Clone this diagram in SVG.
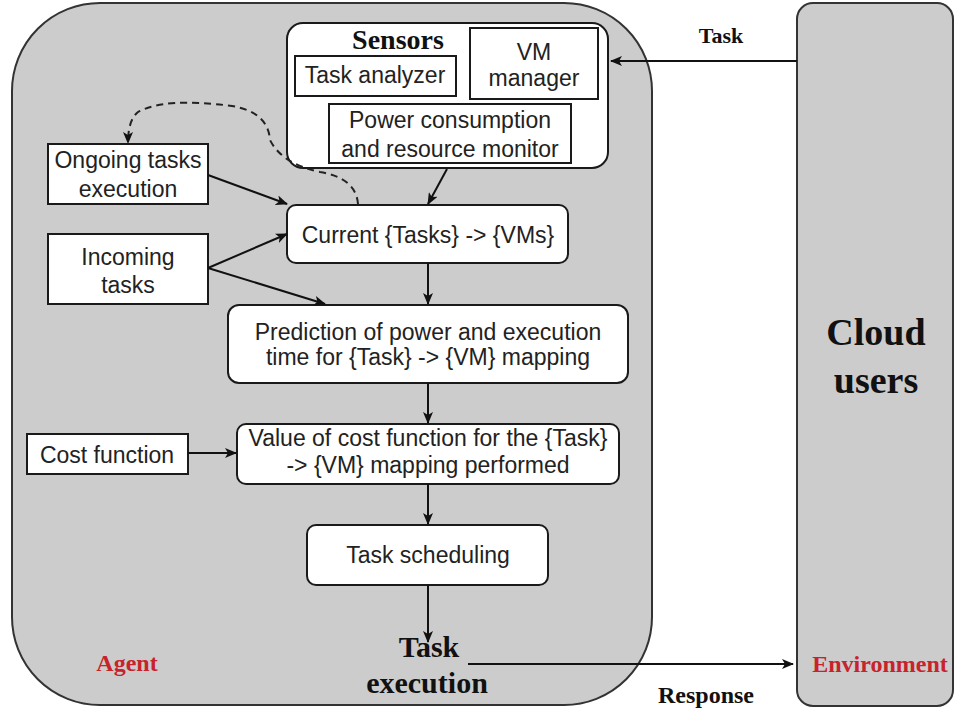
<svg xmlns="http://www.w3.org/2000/svg" width="954" height="713" viewBox="0 0 954 713">
<defs>
<marker id="ah" viewBox="0 0 12 10" refX="11" refY="5" markerWidth="12" markerHeight="10" markerUnits="userSpaceOnUse" orient="auto">
<path d="M0,0 L12,5 L0,10 L3,5 z" fill="#111"/>
</marker>
</defs>
<style>
.bg{fill:#cccccc;stroke:#333;stroke-width:2}
.box{fill:#fff;stroke:#1a1a1a;stroke-width:2}
.t{font-family:"Liberation Sans",Arial,sans-serif;font-size:23px;fill:#222;text-anchor:middle}
.s{font-family:"Liberation Serif","Times New Roman",serif;font-weight:bold;fill:#111;text-anchor:middle}
.red{fill:#c8232c}
.ln{stroke:#111;stroke-width:2;fill:none;marker-end:url(#ah)}
.dash{stroke:#222;stroke-width:2;fill:none;stroke-dasharray:7 5;marker-end:url(#ah)}
</style>
<rect width="954" height="713" fill="#fff"/>

<g id="agent">
<rect class="bg" x="12" y="3" width="640" height="702" rx="88" ry="88"/>
<text class="s red" x="127" y="671" font-size="24">Agent</text>
</g>

<g id="cloud-users">
<rect class="bg" x="797" y="3" width="156" height="703" rx="16" ry="16"/>
<text class="s" x="876" y="345" font-size="38">Cloud</text>
<text class="s" x="876" y="393" font-size="38">users</text>
<text class="s red" x="880" y="672" font-size="24">Environment</text>
</g>

<g id="sensors">
<rect class="box" x="287" y="23" width="321" height="145" rx="16" ry="16" stroke-width="1.5"/>
<text class="s" x="398" y="49" font-size="28">Sensors</text>
</g>

<g id="task-analyzer">
<rect class="box" x="295" y="56" width="161" height="40"/>
<text class="t" x="375" y="83">Task analyzer</text>
</g>

<g id="vm-manager">
<rect class="box" x="470" y="28" width="128" height="71"/>
<text class="t" x="534" y="60">VM</text>
<text class="t" x="534" y="86">manager</text>
</g>

<g id="power-monitor">
<rect class="box" x="329" y="104" width="242" height="59"/>
<text class="t" x="450" y="128">Power consumption</text>
<text class="t" x="450" y="157">and resource monitor</text>
</g>

<g id="ongoing">
<rect class="box" x="48" y="144" width="160" height="60"/>
<text class="t" x="128" y="168">Ongoing tasks</text>
<text class="t" x="128" y="197">execution</text>
</g>

<g id="incoming">
<rect class="box" x="48" y="234" width="160" height="70"/>
<text class="t" x="128" y="265">Incoming</text>
<text class="t" x="128" y="293">tasks</text>
</g>

<g id="current">
<rect class="box" x="287" y="205" width="281" height="58" rx="9" ry="9"/>
<text class="t" x="428" y="243">Current {Tasks} -&gt; {VMs}</text>
</g>

<g id="prediction">
<rect class="box" x="228" y="305" width="400" height="78" rx="11" ry="11"/>
<text class="t" x="428" y="340">Prediction of power and execution</text>
<text class="t" x="428" y="365">time for {Task} -&gt; {VM} mapping</text>
</g>

<g id="cost-function">
<rect class="box" x="27" y="434" width="161" height="40"/>
<text class="t" x="107" y="463">Cost function</text>
</g>

<g id="value">
<rect class="box" x="237" y="424" width="382" height="60" rx="9" ry="9"/>
<text class="t" x="428" y="446" font-size="22.5">Value of cost function for the {Task}</text>
<text class="t" x="428" y="473" font-size="22.5">-&gt; {VM} mapping performed</text>
</g>

<g id="scheduling">
<rect class="box" x="307" y="525" width="241" height="60" rx="9" ry="9"/>
<text class="t" x="428" y="563">Task scheduling</text>
</g>

<g id="task-execution">
<text class="s" x="429" y="657" font-size="30">Task</text>
<text class="s" x="427" y="693" font-size="30">execution</text>
</g>

<g id="connectors">
<path class="ln" d="M797,61 L611,61"/>
<path class="ln" d="M447,169 L428,204"/>
<path class="ln" d="M208,175 L287,204"/>
<path class="ln" d="M208,268 L287,234"/>
<path class="ln" d="M208,268 L325,304"/>
<path class="ln" d="M428,263 L428,304"/>
<path class="ln" d="M428,383 L428,423"/>
<path class="ln" d="M188,453 L236,453"/>
<path class="ln" d="M428,484 L428,524"/>
<path class="ln" d="M428,585 L428,642"/>
<path class="ln" d="M468,664 L793,664"/>
<path class="dash" d="M358,204 Q356,178 320,172 Q282,164 270,140 Q268,112 232,106 Q165,97 138,112 Q128,120 128,143"/>
<text class="s" x="721" y="43" font-size="22">Task</text>
<text class="s" x="706" y="703" font-size="24">Response</text>
</g>
</svg>
